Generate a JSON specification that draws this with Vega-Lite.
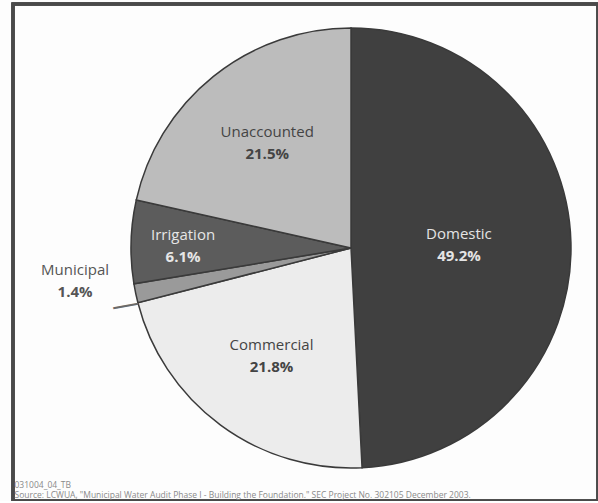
{
  "$schema": "https://vega.github.io/schema/vega-lite/v6.json",
  "width": 585,
  "height": 497,
  "autosize": "none",
  "padding": {"left": 13, "top": 4, "right": 0, "bottom": 0},
  "background": "#fdfdfd",
  "config": {
    "view": {"stroke": null},
    "font": "Open Sans"
  },
  "title": {
    "text": ["031004_04_TB", "Source: LCWUA, \"Municipal Water Audit Phase I - Building the Foundation.\" SEC Project No. 302105 December 2003."],
    "orient": "bottom",
    "anchor": "start",
    "offset": -22,
    "dx": 3,
    "fontSize": 8.5,
    "lineHeight": 10.5,
    "fontWeight": "normal",
    "font": "Open Sans",
    "color": "#8a8a8a"
  },
  "data": {
    "values": [
      {"category": "Domestic", "value": 49.2, "pct": "49.2%", "order": 1},
      {"category": "Commercial", "value": 21.8, "pct": "21.8%", "order": 2},
      {"category": "Municipal", "value": 1.4, "pct": "1.4%", "order": 3},
      {"category": "Irrigation", "value": 6.1, "pct": "6.1%", "order": 4},
      {"category": "Unaccounted", "value": 21.5, "pct": "21.5%", "order": 5}
    ]
  },
  "layer": [
    {
      "mark": {"type": "rect", "fill": null, "stroke": "#4a4a4a", "strokeWidth": 3},
      "encoding": {}
    },
    {
      "mark": {"type": "arc", "outerRadius": 220, "stroke": "#3a3a3a", "strokeWidth": 1.5, "xOffset": 45.5, "yOffset": -4.5},
      "encoding": {
        "theta": {"field": "value", "type": "quantitative", "stack": true},
        "order": {"field": "order", "type": "quantitative", "sort": "ascending"},
        "color": {
          "field": "category",
          "type": "nominal",
          "scale": {
            "domain": ["Domestic", "Commercial", "Municipal", "Irrigation", "Unaccounted"],
            "range": ["#404040", "#ececec", "#9a9a9a", "#5c5c5c", "#bcbcbc"]
          },
          "legend": null
        }
      }
    },
    {
      "mark": {"type": "text", "radius": 234, "fontSize": 28, "font": "DejaVu Sans", "angle": -10, "color": "#6a6a6a", "baseline": "middle", "align": "center", "xOffset": 45.5, "yOffset": -4.5, "dx": 2, "dy": 10},
      "encoding": {
        "theta": {"field": "value", "type": "quantitative", "stack": true},
        "order": {"field": "order", "type": "quantitative", "sort": "ascending"},
        "text": {"condition": {"test": "datum.category == 'Municipal'", "value": "—"}, "value": ""}
      }
    },
    {
      "mark": {"type": "text", "radius": 108, "fontSize": 15, "color": "#e4e4e4", "baseline": "middle", "xOffset": 45.5, "yOffset": -4.5, "dy": -11},
      "encoding": {
        "theta": {"field": "value", "type": "quantitative", "stack": true},
        "order": {"field": "order", "type": "quantitative", "sort": "ascending"},
        "text": {"condition": {"test": "datum.category == 'Domestic'", "field": "category"}, "value": ""}
      }
    },
    {
      "mark": {"type": "text", "radius": 108, "fontSize": 15, "fontWeight": "bold", "color": "#e4e4e4", "baseline": "middle", "xOffset": 45.5, "yOffset": -4.5, "dy": 11},
      "encoding": {
        "theta": {"field": "value", "type": "quantitative", "stack": true},
        "order": {"field": "order", "type": "quantitative", "sort": "ascending"},
        "text": {"condition": {"test": "datum.category == 'Domestic'", "field": "pct"}, "value": ""}
      }
    },
    {
      "mark": {"type": "text", "radius": 168, "fontSize": 15, "color": "#e6e6e6", "baseline": "middle", "xOffset": 45.5, "yOffset": -4.5, "dy": -8},
      "encoding": {
        "theta": {"field": "value", "type": "quantitative", "stack": true},
        "order": {"field": "order", "type": "quantitative", "sort": "ascending"},
        "text": {"condition": {"test": "datum.category == 'Irrigation'", "field": "category"}, "value": ""}
      }
    },
    {
      "mark": {"type": "text", "radius": 168, "fontSize": 15, "fontWeight": "bold", "color": "#e6e6e6", "baseline": "middle", "xOffset": 45.5, "yOffset": -4.5, "dy": 14},
      "encoding": {
        "theta": {"field": "value", "type": "quantitative", "stack": true},
        "order": {"field": "order", "type": "quantitative", "sort": "ascending"},
        "text": {"condition": {"test": "datum.category == 'Irrigation'", "field": "pct"}, "value": ""}
      }
    },
    {
      "mark": {"type": "text", "radius": 134, "fontSize": 15, "color": "#444444", "baseline": "middle", "xOffset": 45.5, "yOffset": -4.5, "dy": -11},
      "encoding": {
        "theta": {"field": "value", "type": "quantitative", "stack": true},
        "order": {"field": "order", "type": "quantitative", "sort": "ascending"},
        "text": {"condition": {"test": "datum.category == 'Commercial' || datum.category == 'Unaccounted'", "field": "category"}, "value": ""}
      }
    },
    {
      "mark": {"type": "text", "radius": 134, "fontSize": 15, "fontWeight": "bold", "color": "#444444", "baseline": "middle", "xOffset": 45.5, "yOffset": -4.5, "dy": 11},
      "encoding": {
        "theta": {"field": "value", "type": "quantitative", "stack": true},
        "order": {"field": "order", "type": "quantitative", "sort": "ascending"},
        "text": {"condition": {"test": "datum.category == 'Commercial' || datum.category == 'Unaccounted'", "field": "pct"}, "value": ""}
      }
    },
    {
      "mark": {"type": "text", "radius": 282, "fontSize": 15, "color": "#555555", "baseline": "middle", "xOffset": 45.5, "yOffset": -4.5, "dy": -36},
      "encoding": {
        "theta": {"field": "value", "type": "quantitative", "stack": true},
        "order": {"field": "order", "type": "quantitative", "sort": "ascending"},
        "text": {"condition": {"test": "datum.category == 'Municipal'", "field": "category"}, "value": ""}
      }
    },
    {
      "mark": {"type": "text", "radius": 282, "fontSize": 15, "fontWeight": "bold", "color": "#555555", "baseline": "middle", "xOffset": 45.5, "yOffset": -4.5, "dy": -14},
      "encoding": {
        "theta": {"field": "value", "type": "quantitative", "stack": true},
        "order": {"field": "order", "type": "quantitative", "sort": "ascending"},
        "text": {"condition": {"test": "datum.category == 'Municipal'", "field": "pct"}, "value": ""}
      }
    }
  ]
}
